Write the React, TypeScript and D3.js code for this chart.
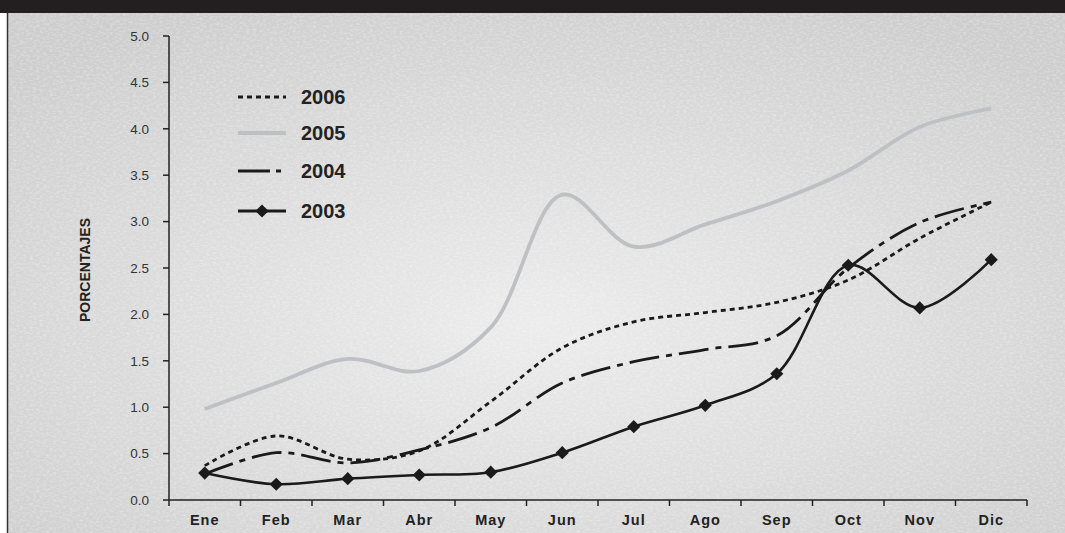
import React, { useEffect, useRef } from "react";
import * as d3 from "d3";

const months = ["Ene", "Feb", "Mar", "Abr", "May", "Jun", "Jul", "Ago", "Sep", "Oct", "Nov", "Dic"];
const yTicks = [0, 0.5, 1, 1.5, 2, 2.5, 3, 3.5, 4, 4.5, 5];
const s2006 = [0.37, 0.69, 0.44, 0.53, 1.06, 1.64, 1.92, 2.02, 2.13, 2.37, 2.82, 3.21];
const s2005 = [0.98, 1.26, 1.52, 1.39, 1.86, 3.29, 2.73, 2.97, 3.22, 3.55, 4.02, 4.22];
const s2004 = [0.28, 0.51, 0.4, 0.54, 0.78, 1.26, 1.49, 1.62, 1.77, 2.5, 2.99, 3.21];
const s2003 = [0.29, 0.17, 0.23, 0.27, 0.3, 0.51, 0.79, 1.02, 1.36, 2.53, 2.07, 2.59];
const seriesNames = ["2006", "2005", "2004", "2003"];

const W = 1065;
const H = 533;

export default function App() {
  const ref = useRef<SVGSVGElement | null>(null);

  useEffect(() => {
    const svg = d3.select(ref.current);
    svg.selectAll("*").remove();

    const defs = svg.append("defs");
    const grad = defs
      .append("radialGradient")
      .attr("id", "bg")
      .attr("cx", "50%")
      .attr("cy", "60%")
      .attr("r", "70%");
    grad.append("stop").attr("offset", "0%").attr("stop-color", "#ececec");
    grad.append("stop").attr("offset", "100%").attr("stop-color", "#cdcdcd");

    const filt = defs.append("filter").attr("id", "noise").attr("x", 0).attr("y", 0).attr("width", "100%").attr("height", "100%");
    filt
      .append("feTurbulence")
      .attr("type", "fractalNoise")
      .attr("baseFrequency", "0.3 0.55")
      .attr("numOctaves", 2)
      .attr("seed", 3)
      .attr("result", "t");
    filt
      .append("feColorMatrix")
      .attr("in", "t")
      .attr("type", "matrix")
      .attr("values", "0 0 0 0 1  0 0 0 0 1  0 0 0 0 1  0 0 0 -1.4 0.85");

    // background
    svg.append("rect").attr("x", 0).attr("y", 0).attr("width", W).attr("height", H).attr("fill", "#ffffff");
    svg.append("rect").attr("x", 8).attr("y", 13).attr("width", W - 8).attr("height", H - 13).attr("fill", "url(#bg)");
    svg
      .append("rect")
      .attr("x", 8)
      .attr("y", 13)
      .attr("width", W - 8)
      .attr("height", H - 13)
      .attr("filter", "url(#noise)")
      .attr("opacity", 0.45);
    svg.append("rect").attr("x", 0).attr("y", 0).attr("width", W).attr("height", 13).attr("fill", "#231f20");
    svg.append("line").attr("x1", 7.5).attr("x2", 7.5).attr("y1", 13).attr("y2", H).attr("stroke", "#333").attr("stroke-width", 1.5);

    const x0 = 169;
    const x1 = 1027;
    const yTop = 36;
    const yBot = 500;

    const x = d3.scaleBand<string>().domain(months).range([x0, x1]).padding(0);
    const cx = (m: string) => (x(m) as number) + x.bandwidth() / 2;
    const y = d3.scaleLinear().domain([0, 5]).range([yBot, yTop]);

    const font = "Liberation Sans, Arial, Helvetica, sans-serif";

    // y axis
    const ya = svg.append("g");
    ya.append("line").attr("x1", x0).attr("x2", x0).attr("y1", y(5)).attr("y2", yBot).attr("stroke", "#222").attr("stroke-width", 1.5);
    yTicks.forEach((t) => {
      ya.append("line").attr("x1", x0 - 6).attr("x2", x0).attr("y1", y(t)).attr("y2", y(t)).attr("stroke", "#222").attr("stroke-width", 1.5);
      ya.append("text")
        .attr("x", 149)
        .attr("y", y(t))
        .attr("dy", "0.35em")
        .attr("text-anchor", "end")
        .attr("font-family", font)
        .attr("font-size", 13.5)
        .attr("fill", "#333")
        .text(d3.format(".1f")(t));
    });

    // x axis
    const xa = svg.append("g");
    xa.append("line").attr("x1", x0).attr("x2", x1).attr("y1", yBot).attr("y2", yBot).attr("stroke", "#222").attr("stroke-width", 1.5);
    const bounds = months.map((m) => x(m) as number).concat([x1]);
    bounds.forEach((b) => {
      xa.append("line").attr("x1", b).attr("x2", b).attr("y1", yBot).attr("y2", yBot + 6).attr("stroke", "#222").attr("stroke-width", 1.5);
    });
    months.forEach((m) => {
      xa.append("text")
        .attr("x", cx(m))
        .attr("y", 525)
        .attr("text-anchor", "middle")
        .attr("font-family", font)
        .attr("font-size", 14.5)
        .attr("font-weight", "bold")
        .attr("letter-spacing", 1)
        .attr("fill", "#222")
        .text(m);
    });

    // y label
    svg
      .append("text")
      .attr("transform", `translate(90,270) rotate(-90)`)
      .attr("text-anchor", "middle")
      .attr("font-family", font)
      .attr("font-size", 14)
      .attr("font-weight", "bold")
      .attr("fill", "#222")
      .text("PORCENTAJES");

    const line = d3
      .line<number>()
      .x((_, i) => cx(months[i]))
      .y((d) => y(d))
      .curve(d3.curveCatmullRom.alpha(0.5));

    const styles = [
      { data: s2006, stroke: "#1a1a1a", width: 2.8, dash: "5,4" },
      { data: s2005, stroke: "#bfc0c3", width: 3.8, dash: "" },
      { data: s2004, stroke: "#1a1a1a", width: 2.8, dash: "30,7,6,7" },
      { data: s2003, stroke: "#1a1a1a", width: 2.6, dash: "" },
    ];

    styles.forEach((s) => {
      svg
        .append("path")
        .attr("d", line(s.data))
        .attr("fill", "none")
        .attr("stroke", s.stroke)
        .attr("stroke-width", s.width)
        .attr("stroke-dasharray", s.dash || null);
    });

    const diamond = d3.symbol().type(d3.symbolDiamond2).size(110);
    svg
      .append("g")
      .selectAll("path")
      .data(s2003)
      .join("path")
      .attr("d", diamond() as string)
      .attr("transform", (d, i) => `translate(${cx(months[i])},${y(d)})`)
      .attr("fill", "#1a1a1a");

    // legend
    const legY = [97, 133, 171, 211];
    const lg = svg.append("g");
    seriesNames.forEach((n, i) => {
      const s = styles[i];
      lg.append("line")
        .attr("x1", 238)
        .attr("x2", 286)
        .attr("y1", legY[i])
        .attr("y2", legY[i])
        .attr("stroke", s.stroke)
        .attr("stroke-width", i === 1 ? 4 : 2.8)
        .attr("stroke-dasharray", i === 0 ? "5,4" : i === 2 ? "32,6,5,6" : null);
      if (i === 3) {
        lg.append("path")
          .attr("d", diamond() as string)
          .attr("transform", `translate(262,${legY[i]})`)
          .attr("fill", "#1a1a1a");
      }
      lg.append("text")
        .attr("x", 301)
        .attr("y", legY[i])
        .attr("dy", "0.36em")
        .attr("font-family", font)
        .attr("font-size", 20)
        .attr("font-weight", "bold")
        .attr("fill", "#222")
        .text(n);
    });
  }, []);

  return (
    <div style={{ position: "absolute", left: 0, top: 0 }}>
      <svg ref={ref} width={W} height={H} style={{ display: "block" }} />
    </div>
  );
}
